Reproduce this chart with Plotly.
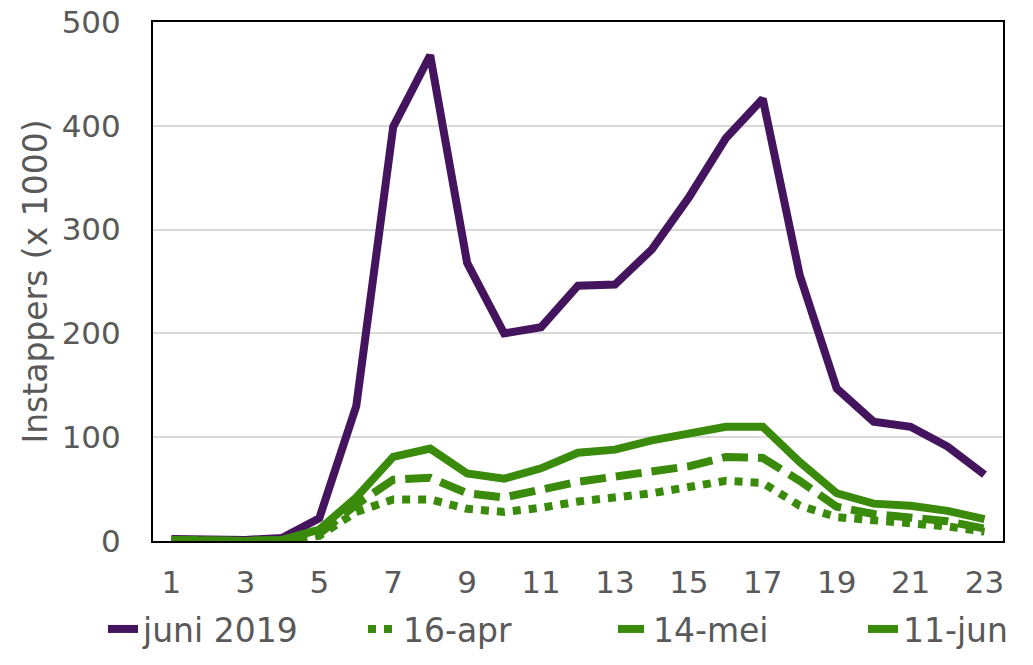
import plotly.graph_objects as go

# uur van de dag
hours = list(range(1, 24))

juni_2019 = [2, 1, 1, 3, 22, 130, 399, 468, 268, 200, 206, 246, 247, 281, 331, 388, 426, 256, 147, 115, 110, 91, 64]
apr_16 = [1, 0, 0, 1, 5, 28, 40, 40, 31, 28, 32, 38, 42, 46, 52, 58, 56, 34, 23, 20, 18, 14, 9]
mei_14 = [1, 0, 0, 1, 7, 35, 59, 61, 46, 42, 49, 57, 62, 67, 72, 81, 80, 58, 33, 26, 22, 19, 12]
jun_11 = [1, 0, 0, 1, 11, 42, 81, 89, 65, 60, 70, 85, 88, 97, 103, 110, 110, 76, 46, 36, 34, 29, 21]

PURPLE = '#44145E'
GREEN = '#3A8A0C'
GREY = '#595959'
LW = 8

# page body has an 8px margin, so the figure is a bit smaller than the window
W, H = 1017, 649

series = [
    ("juni 2019", juni_2019, PURPLE, "solid", "legend"),
    ("16-apr", apr_16, GREEN, "8px,8px", "legend2"),
    ("14-mei", mei_14, GREEN, "26px,10px", "legend3"),
    ("11-jun", jun_11, GREEN, "solid", "legend4"),
]
legend_x = [95, 355, 605, 855]  # left edge of each legend entry, px

fig = go.Figure()
for name, vals, col, dash, leg in series:
    fig.add_trace(go.Scatter(x=hours, y=vals, name=name, mode="lines", legend=leg,
                             line=dict(color=col, width=LW, dash=dash)))

legends = {}
for (name, vals, col, dash, leg), lx in zip(series, legend_x):
    legends[leg] = dict(orientation="h", xref="container", x=lx / W, xanchor="left",
                        yref="container", y=0, yanchor="bottom",
                        bgcolor="rgba(0,0,0,0)", font=dict(size=33, color=GREY))

fig.update_layout(
    width=W, height=H,
    margin=dict(l=145, r=22, t=14, b=116, autoexpand=False),
    plot_bgcolor="white", paper_bgcolor="white",
    font=dict(family="DejaVu Sans, Verdana", size=31, color=GREY),
    showlegend=True,
    **legends,
)
fig.update_xaxes(range=[0.5, 23.5], tickmode="array", tickvals=hours[::2],
                 showgrid=False, showline=True, linecolor="black", linewidth=2,
                 mirror=True, ticks="", zeroline=False, automargin=False,
                 ticklabelstandoff=13, ticklabeloverflow="allow")
fig.update_yaxes(range=[0, 500], dtick=100, showgrid=True, gridcolor="#d9d9d9", gridwidth=2,
                 showline=True, linecolor="black", linewidth=2, mirror=True,
                 zeroline=False, ticks="", automargin=False, ticklabelstandoff=24,
                 ticklabeloverflow="allow",
                 title=dict(text="Instappers (x 1000)", font=dict(size=33, color=GREY), standoff=4))

fig.write_html("out.html")
